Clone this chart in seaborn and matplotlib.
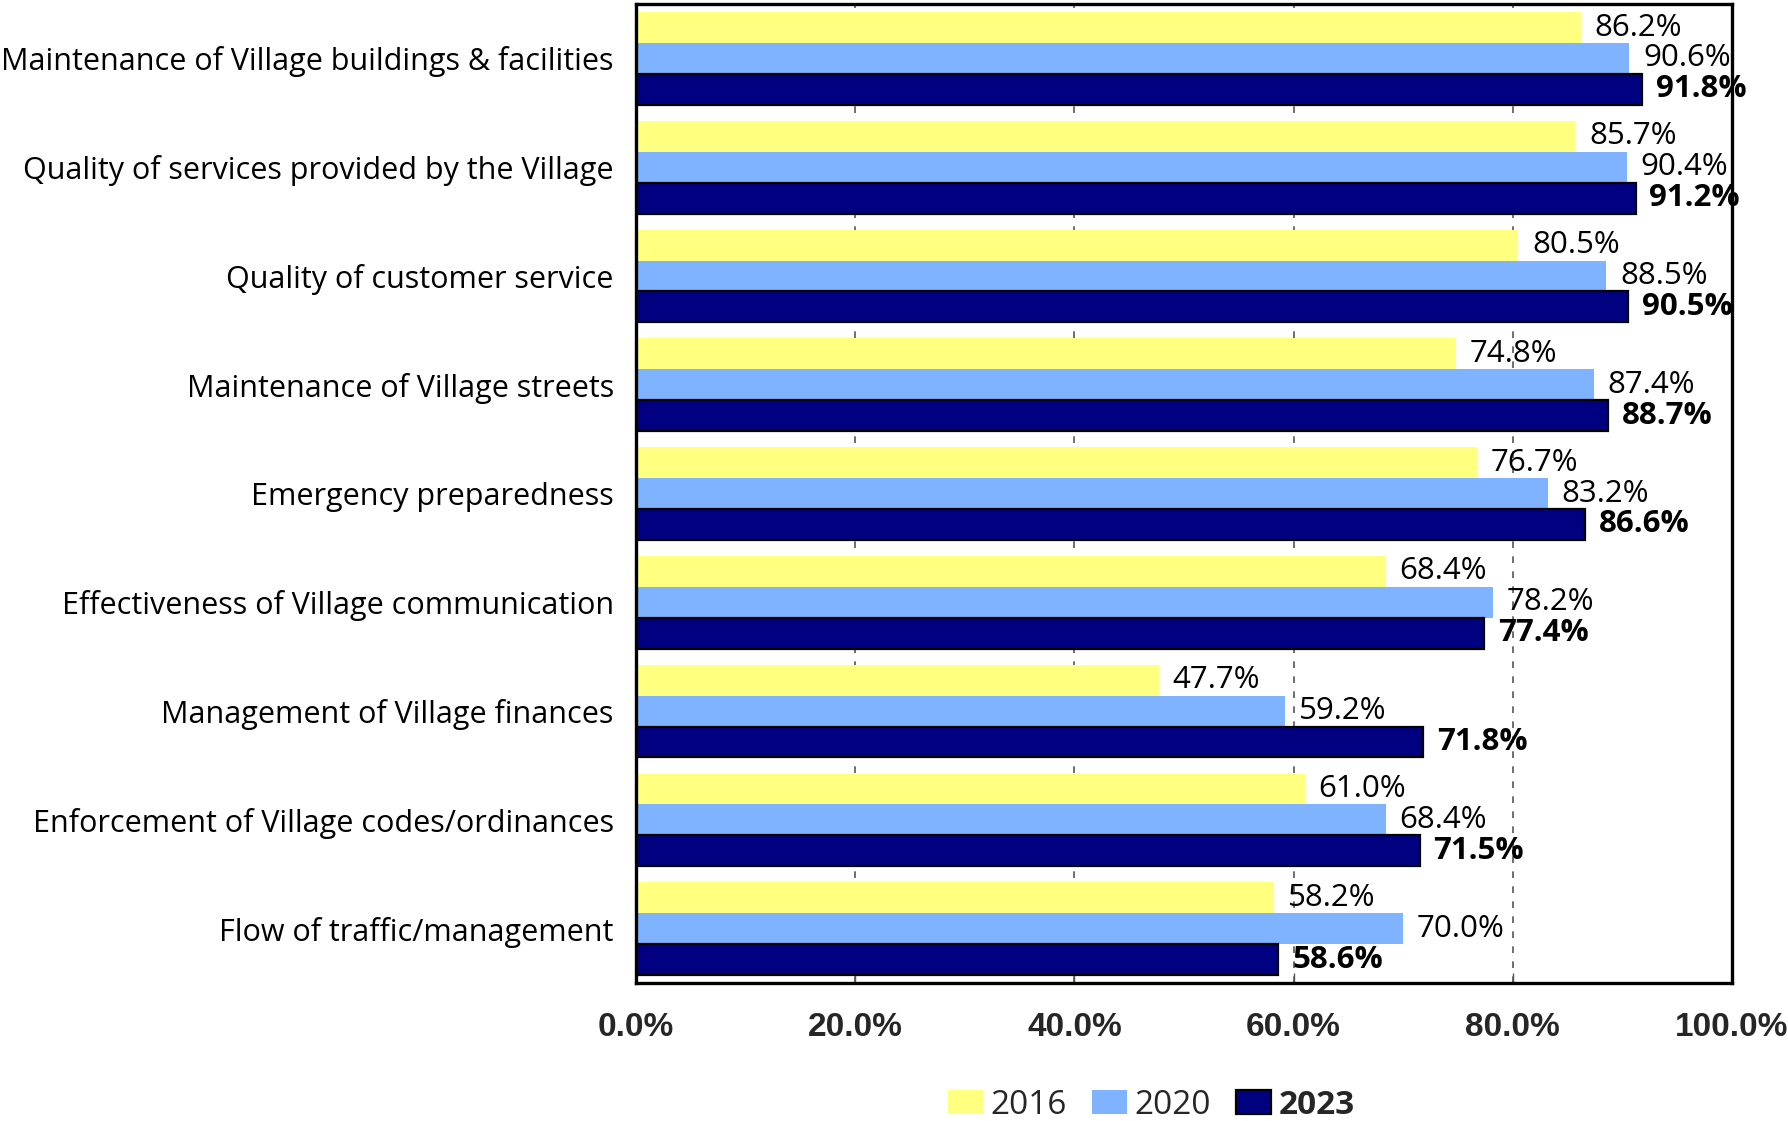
import matplotlib
matplotlib.use("Agg")
import matplotlib.pyplot as plt
import seaborn as sns
import pandas as pd
from matplotlib.patches import Patch

categories = [
    "Maintenance of Village buildings & facilities",
    "Quality of services provided by the Village",
    "Quality of customer service",
    "Maintenance of Village streets",
    "Emergency preparedness",
    "Effectiveness of Village communication",
    "Management of Village finances",
    "Enforcement of Village codes/ordinances",
    "Flow of traffic/management",
]
years = ["2016", "2020", "2023"]
vals_2016 = [86.2, 85.7, 80.5, 74.8, 76.7, 68.4, 47.7, 61.0, 58.2]
vals_2020 = [90.6, 90.4, 88.5, 87.4, 83.2, 78.2, 59.2, 68.4, 70.0]
vals_2023 = [91.8, 91.2, 90.5, 88.7, 86.6, 77.4, 71.8, 71.5, 58.6]
x_ticks = [0, 20, 40, 60, 80, 100]
colors = ["#FFFF80", "#7FB2FF", "#000080"]

df = pd.DataFrame({
    "category": categories * 3,
    "year": [y for y in years for _ in categories],
    "value": vals_2016 + vals_2020 + vals_2023,
})

sns.set_theme(style="white")
plt.rcParams["font.family"] = ["Open Sans", "DejaVu Sans"]

fig = plt.figure(figsize=(17.88, 11.21), dpi=100)
ax = fig.add_axes([0.3557, 0.1231, 0.6130, 0.8733])

sns.barplot(data=df, y="category", x="value", hue="year", order=categories,
            hue_order=years, palette=colors, orient="h", width=0.852,
            saturation=1, linewidth=0, ax=ax, legend=False)

# navy bars get a black outline
for bar in ax.containers[2]:
    bar.set_edgecolor("black")
    bar.set_linewidth(1.6)

for i, cont in enumerate(ax.containers):
    labels = [f"{v:.1f}%" for v in cont.datavalues]
    ax.bar_label(cont, labels=labels, padding=10, fontsize=22.5,
                 fontweight="bold" if i == 2 else "normal", color="black")

ax.set_xlim(0, 100)
ax.set_ylim(8.5, -0.5)
ax.set_xticks(x_ticks)
ax.set_xticklabels([f"{t:.1f}%" for t in x_ticks], fontsize=24,
                   fontweight="bold", family=["Liberation Sans", "DejaVu Sans"])
ax.set_xlabel("")
ax.set_ylabel("")
ax.tick_params(axis="x", direction="in", length=7, width=1, color="#555555",
               pad=21, bottom=True)
ax.tick_params(axis="y", length=0, pad=16, labelsize=22, labelcolor="black")

ax.set_axisbelow(True)
ax.xaxis.grid(True, linestyle=(0, (4, 5)), color="#555555", linewidth=1.2)
ax.yaxis.grid(False)
for s in ax.spines.values():
    s.set_visible(True)
    s.set_color("black")
    s.set_linewidth(2.4)

handles = [
    Patch(facecolor=colors[0], edgecolor="none"),
    Patch(facecolor=colors[1], edgecolor="none"),
    Patch(facecolor=colors[2], edgecolor="black", linewidth=1.6),
]
leg = fig.legend(handles, years, loc="center", bbox_to_anchor=(0.644, 0.014),
                 ncol=3, frameon=False, fontsize=24, handlelength=1.05,
                 handleheight=0.72, handletextpad=0.23, columnspacing=0.75)
leg.get_texts()[2].set_fontweight("bold")

fig.savefig("out.png", dpi=100)
